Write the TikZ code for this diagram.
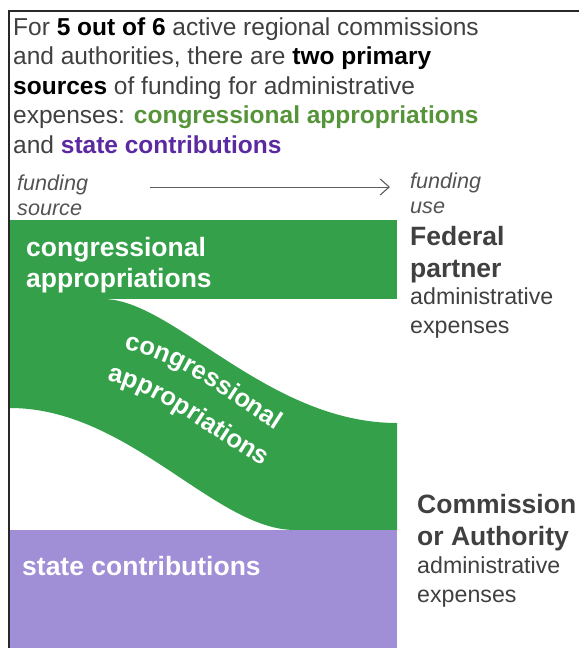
\documentclass[tikz,border=0pt]{standalone}
\usepackage{fontspec}
\setmainfont{Liberation Sans}
\usetikzlibrary{arrows.meta,decorations.text}
\definecolor{grn}{RGB}{52,161,74}
\definecolor{prp}{RGB}{160,142,214}
\definecolor{txtg}{RGB}{64,64,64}
\definecolor{gtxt}{RGB}{86,148,58}
\definecolor{ptxt}{RGB}{92,42,160}
\definecolor{framec}{RGB}{40,40,40}
\tikzset{
  hdr/.style={anchor=base west, inner sep=0pt, text=txtg, font=\fontsize{24.5}{29}\selectfont},
  ital/.style={anchor=base west, inner sep=0pt, text=txtg!90, font=\fontsize{21.6}{25}\selectfont\itshape},
  wlabel/.style={anchor=base west, inner sep=0pt, text=white, font=\fontsize{26.5}{30}\selectfont\bfseries},
  blabel/.style={anchor=base west, inner sep=0pt, text=txtg, font=\fontsize{26.5}{30}\selectfont\bfseries},
  slabel/.style={anchor=base west, inner sep=0pt, text=txtg, font=\fontsize{23.2}{26}\selectfont},
}
\begin{document}
\begin{tikzpicture}[x=1pt,y=-1pt]
\useasboundingbox (0,0) rectangle (579,648);
% frame
\draw[framec, line width=1.3pt] (579,11) -- (9,11) -- (9,648);
% header
\node[hdr] (h1) at (13,35) {For \textbf{\color{black}5 out of 6} active regional commissions};
\node[hdr] (h2) at (13,64.5) {and authorities, there are \textbf{\color{black}two primary}};
\node[hdr] (h3) at (13,94) {\textbf{\color{black}sources} of funding for administrative};
\node[hdr] (h4) at (13,123.5) {expenses: \textbf{\color{gtxt}congressional appropriations}};
\node[hdr] (h5) at (13,153) {and \textbf{\color{ptxt}state contributions}};
% funding source / use
\node[ital] (fs1) at (17,190) {funding};
\node[ital] (fs2) at (17,215) {source};
\node[ital] (fu1) at (410,188) {funding};
\node[ital] (fu2) at (410,213) {use};
\coordinate (as) at (150,187);
\coordinate (ae) at (390,187);
\draw[txtg!85, line width=1pt, -{Straight Barb[length=9pt,width=16pt,line width=1.1pt]}] (as) -- (ae);
% shapes
\fill[grn] (10,220) rectangle (397,299);
\fill[grn] (10,299) -- (103,299) .. controls (173,299) and (267,423) .. (397,423)
  -- (397,530) -- (295,530) .. controls (215,530) and (129,408) .. (10,408) -- cycle;
\fill[prp] (10,530) rectangle (397,648);
% labels on shapes
\node[wlabel] (ca1) at (26,256) {congressional};
\node[wlabel] (ca2) at (26,287) {appropriations};
\node[wlabel] (sc) at (22,575) {state contributions};
\path[decorate, decoration={text along path, text align=left,
  text={|\fontsize{25.5}{25}\selectfont\bfseries\color{white}|congressional}}]
  (124,350) .. controls (180,358) and (225,400) .. (305,448);
\path[decorate, decoration={text along path, text align=left,
  text={|\fontsize{25.5}{25}\selectfont\bfseries\color{white}|appropriations}}]
  (107,381) .. controls (160,390) and (210,440) .. (295,484);
% right labels
\node[blabel] (fp1) at (410,245) {Federal};
\node[blabel] (fp2) at (410,277) {partner};
\node[slabel] (fa1) at (410,304) {administrative};
\node[slabel] (fa2) at (410,333) {expenses};
\node[blabel] (co1) at (417,513) {Commission};
\node[blabel] (co2) at (417,545) {or Authority};
\node[slabel] (ca3) at (417,573) {administrative};
\node[slabel] (ca4) at (417,602) {expenses};
\end{tikzpicture}
\end{document}
